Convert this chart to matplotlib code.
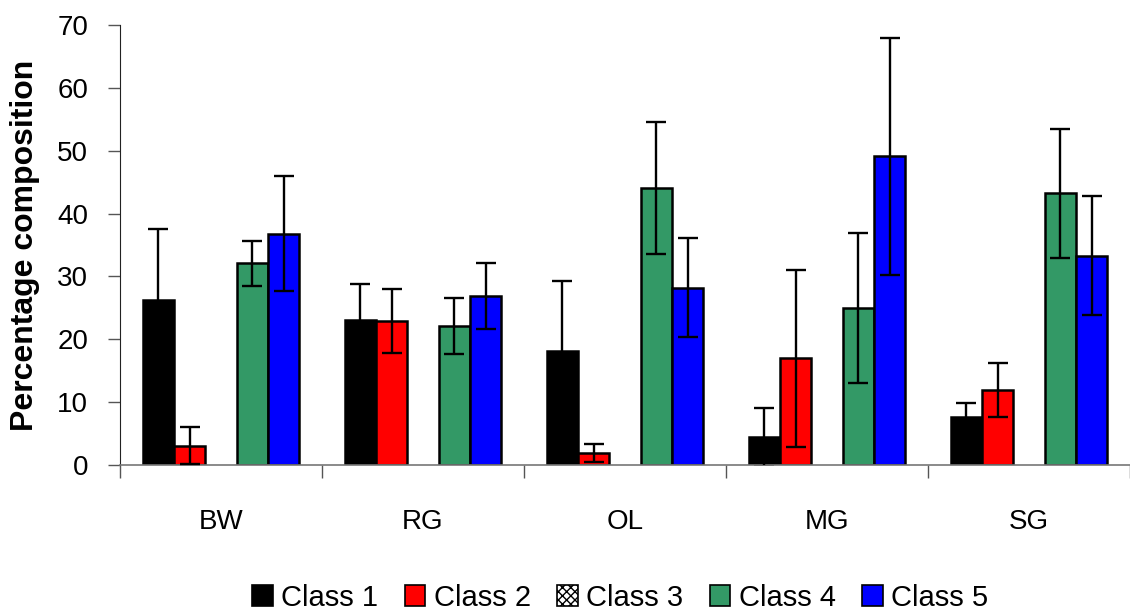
import numpy as np
import matplotlib
matplotlib.use('Agg')
import matplotlib.pyplot as plt
from matplotlib import font_manager
from matplotlib.patches import Patch

# pick a narrow arial-like face if we have one
names = set(f.name for f in font_manager.fontManager.ttflist)
if 'Liberation Sans Narrow' in names:
    fam = 'Liberation Sans Narrow'
else:
    fam = 'Liberation Sans'
plt.rcParams['font.family'] = [fam, 'DejaVu Sans']

sites   = ['BW', 'RG', 'OL', 'MG', 'SG']
classes = ['Class 1', 'Class 2', 'Class 3', 'Class 4', 'Class 5']

class1 = [26.2, 23.0, 18.2,  4.4,  7.6]
class2 = [ 3.1, 22.9,  1.9, 17.0, 11.9]
class3 = [np.nan, np.nan, np.nan, np.nan, np.nan]   # no bars drawn for class 3
class4 = [32.1, 22.1, 44.0, 25.0, 43.2]
class5 = [36.8, 26.9, 28.2, 49.1, 33.3]

err1 = [11.4,  5.8, 11.0,  4.7,  2.2]
err2 = [ 2.9,  5.1,  1.5, 14.1,  4.3]
err3 = [np.nan, np.nan, np.nan, np.nan, np.nan]
err4 = [ 3.6,  4.5, 10.5, 11.9, 10.3]
err5 = [ 9.1,  5.2,  7.9, 18.8,  9.5]

vals  = [class1, class2, class3, class4, class5]
errs  = [err1, err2, err3, err4, err5]
cols  = ['#000000', '#ff0000', '#ffffff', '#339966', '#0000ff']

fig = plt.figure(figsize=(11.3, 6.15), dpi=100)
ax = fig.add_axes([120/1130., 1-465/615., 1010/1130., 440/615.])

x  = np.arange(len(sites))
bw = 0.155
for i in range(5):
    xx = x + (i-2)*bw
    ax.bar(xx, vals[i], width=bw, color=cols[i], edgecolor='black', linewidth=1.8, zorder=2)
    ax.errorbar(xx, vals[i], yerr=errs[i], fmt='none', ecolor='black', elinewidth=1.7,
                capsize=7, capthick=1.7, zorder=3)

ax.set_xlim(-0.5, 4.5)
ax.set_ylim(0, 70)
ax.set_yticks(np.arange(0, 71, 10))
ax.tick_params(axis='y', direction='out', length=9, width=1, color='#555555',
               labelsize=20, pad=14)

ax.set_xticks(np.arange(-0.5, 4.6, 1.0))
ax.set_xticklabels([])
ax.set_xticks(x, minor=True)
ax.set_xticklabels(sites, minor=True)
ax.tick_params(axis='x', which='major', direction='out', length=9, width=1, color='#555555')
ax.tick_params(axis='x', which='minor', length=0, labelsize=20, pad=32)

ax.spines['top'].set_visible(False)
ax.spines['right'].set_visible(False)
ax.spines['left'].set_color('#222222')
ax.spines['bottom'].set_color('#777777')
ax.spines['bottom'].set_linewidth(1.2)

ax.set_ylabel('Percentage composition', fontsize=23, fontweight='bold',
              family=['Liberation Sans', 'DejaVu Sans'])
ax.yaxis.set_label_coords(-0.079, 0.5)

# legend along the bottom
hand = []
for i in range(5):
    if i == 2:
        hand.append(Patch(facecolor='white', edgecolor='black', hatch='xxxx', linewidth=1.2))
    else:
        hand.append(Patch(facecolor=cols[i], edgecolor='black', linewidth=1.2))
leg = fig.legend(hand, classes, loc='center', bbox_to_anchor=(0.549, 0.028), ncol=5,
                 frameon=False, fontsize=21, handlelength=0.7, handleheight=0.7,
                 handletextpad=0.3, columnspacing=0.9, borderaxespad=0)

plt.savefig('out.png', dpi=100)
